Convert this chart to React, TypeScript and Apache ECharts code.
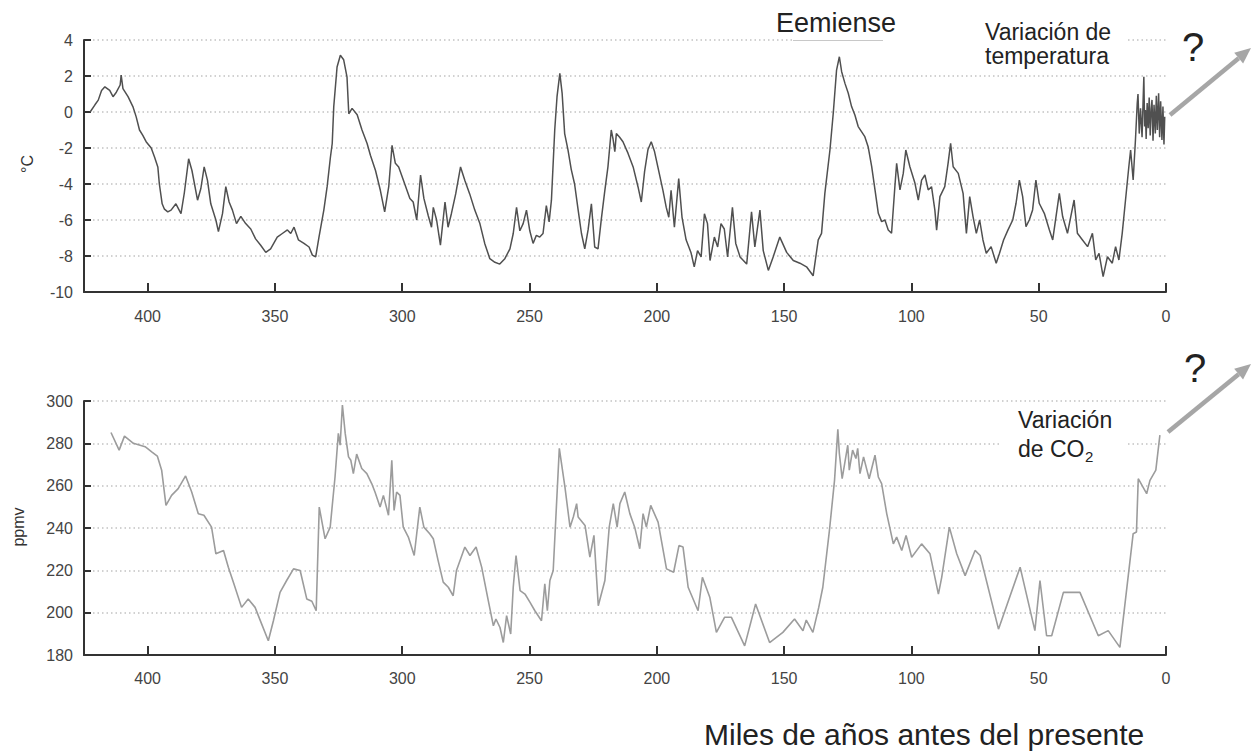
import React, { useEffect, useRef } from "react";
import * as echarts from "echarts";

// Temperature anomaly (°C) vs thousands of years before present
const tempAges = [
  422.6, 420.7, 419.4, 418.1, 416.8, 414.9, 413.6, 412.3, 410.8, 410.4, 409.7, 407.7, 405.8, 404.5, 403.2, 401.9,
  400.6, 398.6, 397.3, 396.0, 395.4, 394.3, 393.4, 392.1, 390.8, 388.9, 386.9, 385.6, 383.9, 382.6, 380.4, 379.1,
  377.8, 376.5, 375.2, 373.2, 372.2, 370.6, 369.3, 368.0, 366.7, 365.1, 363.4, 361.5, 359.5, 357.6, 355.6, 353.6,
  351.7, 349.1, 347.1, 345.1, 343.8, 342.5, 340.8, 338.6, 336.6, 335.3, 334.0, 332.7, 330.8, 329.5, 328.2, 327.5,
  326.9, 325.6, 324.3, 323.0, 321.7, 321.0, 319.7, 317.7, 315.8, 313.8, 312.5, 310.5, 308.6, 306.9, 305.3, 304.0,
  302.7, 301.4, 299.4, 297.0, 295.7, 294.3, 292.8, 291.5, 289.8, 288.5, 287.8, 286.5, 285.0, 283.2, 282.0, 280.7,
  279.0, 277.1, 275.4, 273.5, 271.5, 269.5, 267.6, 265.6, 263.6, 261.7, 259.7, 257.7, 256.4, 255.1, 253.8, 252.5,
  251.2, 249.9, 248.6, 247.3, 246.0, 244.7, 243.4, 242.3, 241.4, 240.1, 239.2, 238.1, 237.2, 236.2, 234.9, 233.6,
  232.3, 230.9, 229.6, 228.3, 227.0, 225.7, 224.4, 223.1, 221.8, 220.5, 219.2, 217.9, 217.2, 216.5, 215.9, 214.6,
  213.3, 211.3, 209.3, 207.4, 206.1, 204.8, 203.5, 202.2, 200.9, 199.6, 197.6, 196.3, 195.3, 194.4, 193.1, 191.4,
  190.1, 188.5, 186.6, 185.3, 184.0, 182.6, 181.3, 180.1, 179.1, 177.4, 176.1, 174.8, 173.5, 172.2, 170.3, 169.0,
  167.3, 164.7, 162.8, 161.5, 159.5, 158.2, 156.2, 154.3, 151.7, 149.0, 146.4, 143.8, 141.2, 138.6, 136.6, 135.3,
  134.0, 132.0, 130.7, 129.4, 128.3, 127.4, 126.1, 124.8, 123.5, 122.2, 120.9, 119.6, 118.3, 117.0, 115.6, 114.3,
  113.0, 111.7, 110.4, 109.1, 107.8, 106.5, 105.8, 104.5, 103.2, 102.2, 100.6, 98.6, 97.3, 96.0, 94.7, 93.4,
  92.1, 90.8, 90.1, 88.8, 86.9, 85.6, 84.6, 83.6, 81.6, 79.7, 78.4, 77.1, 75.8, 74.5, 73.2, 71.9,
  70.6, 68.7, 66.7, 65.4, 63.8, 62.1, 60.2, 58.9, 57.6, 56.3, 55.0, 53.7, 52.4, 51.1, 49.8, 47.8,
  45.8, 44.5, 43.2, 41.9, 40.6, 38.7, 37.4, 36.1, 34.8, 32.8, 30.8, 28.9, 27.6, 26.3, 24.7, 23.0,
  21.1, 19.8, 18.5, 17.2, 15.9, 14.6, 13.9, 12.9, 12.0, 11.3, 11.0, 10.5, 10.0, 9.4, 9.0, 8.7,
  8.4, 8.1, 7.8, 7.4, 7.0, 6.6, 6.2, 5.8, 5.5, 5.1, 4.7, 4.2, 3.8, 3.4, 2.9, 2.5,
  2.1, 1.6, 1.2, 0.8, 0.5,
];
const tempValues = [
  0.0, 0.4, 0.66, 1.2, 1.4, 1.2, 0.85, 1.1, 1.5, 2.05, 1.3, 0.85, 0.3, -0.27, -1.0, -1.3,
  -1.65, -2.0, -2.5, -3.05, -4.0, -5.1, -5.4, -5.55, -5.45, -5.1, -5.65, -4.5, -2.6, -3.25, -4.9, -4.25,
  -3.05, -3.8, -5.1, -6.0, -6.65, -5.65, -4.15, -5.0, -5.45, -6.2, -5.8, -6.2, -6.5, -7.05, -7.4, -7.8,
  -7.6, -6.95, -6.75, -6.55, -6.75, -6.4, -7.1, -7.3, -7.5, -7.95, -8.05, -6.95, -5.45, -4.15, -2.5, -1.75,
  0.3, 2.5, 3.15, 2.9, 1.95, -0.1, 0.2, -0.15, -1.0, -1.75, -2.4, -3.25, -4.35, -5.55, -4.15, -1.85,
  -2.85, -3.05, -3.85, -4.8, -5.0, -6.0, -3.5, -4.8, -5.75, -6.4, -5.3, -6.0, -7.4, -5.0, -6.4, -5.65,
  -4.55, -3.05, -3.8, -4.55, -5.45, -6.2, -7.3, -8.15, -8.35, -8.45, -8.15, -7.6, -6.75, -5.3, -6.6, -6.2,
  -5.45, -6.6, -7.3, -6.85, -6.95, -6.75, -5.2, -6.1, -4.9, -1.0, 0.85, 2.15, 1.05, -1.2, -2.1, -3.2,
  -4.0, -5.45, -6.75, -7.6, -6.55, -5.1, -7.5, -7.6, -5.95, -4.45, -3.05, -1.0, -1.5, -2.2, -1.2, -1.4,
  -1.65, -2.3, -3.05, -4.15, -5.0, -3.3, -2.1, -1.65, -2.2, -3.05, -4.35, -5.3, -5.85, -4.35, -6.4, -3.7,
  -5.85, -7.1, -7.8, -8.6, -7.7, -8.05, -5.65, -6.2, -8.25, -6.95, -7.5, -6.2, -6.5, -8.05, -5.3, -7.3,
  -8.05, -8.45, -5.55, -7.5, -5.45, -7.7, -8.8, -8.05, -6.95, -7.8, -8.25, -8.4, -8.6, -9.1, -7.1, -6.74,
  -4.52, -2.11, -0.07, 2.33, 3.07, 2.24, 1.59, 1.04, 0.3, -0.17, -0.81, -1.09, -1.37, -1.93, -3.04, -4.33,
  -5.63, -6.09, -6.0, -6.56, -6.74, -4.15, -2.85, -4.33, -3.41, -2.11, -3.04, -3.96, -4.89, -3.78, -3.5, -4.33,
  -4.15, -5.44, -6.56, -4.7, -4.15, -2.85, -1.74, -3.04, -3.41, -4.52, -6.74, -4.7, -5.81, -6.74, -6.0, -7.11,
  -7.85, -7.48, -8.4, -7.85, -7.11, -6.56, -6.0, -5.07, -3.78, -4.7, -6.37, -6.0, -5.44, -3.78, -5.07, -5.63,
  -6.56, -7.11, -5.81, -4.52, -5.81, -6.74, -5.81, -4.89, -6.74, -7.11, -7.48, -6.74, -8.22, -7.85, -9.15, -8.04,
  -8.4, -7.48, -8.22, -6.74, -4.89, -3.04, -2.11, -3.78, -1.56, 0.48, 1.0, -1.2, 0.2, -1.4, 0.6, 1.96,
  -0.8, 0.11, -1.5, 0.5, -0.9, 0.8, -1.3, 0.2, 0.67, -1.6, 0.4, -1.19, 0.9, -1.0, 1.04, -1.4,
  0.6, -1.56, 0.3, -1.8, -0.26,
];

// CO2 concentration (ppmv) vs thousands of years before present
const co2Ages = [
  414.4, 411.2, 409.1, 405.6, 401.0, 398.4, 396.2, 394.5, 392.8, 390.6, 388.0, 385.1, 382.7, 380.1, 377.9, 374.9,
  373.2, 370.2, 368.3, 366.1, 363.1, 360.5, 357.8, 355.2, 352.6, 350.6, 348.0, 345.4, 342.7, 340.1, 337.5, 335.5,
  333.8, 332.6, 330.3, 328.3, 326.4, 325.1, 324.4, 323.5, 322.4, 321.1, 320.2, 319.2, 317.9, 315.9, 313.9, 312.0,
  310.7, 308.7, 307.4, 305.4, 304.1, 303.2, 302.2, 300.9, 299.6, 297.6, 295.3, 293.1, 291.5, 289.2, 287.8, 285.9,
  283.9, 281.9, 280.0, 278.7, 275.4, 273.4, 271.0, 268.8, 266.2, 264.2, 263.2, 261.6, 260.3, 259.0, 257.4, 256.4,
  255.3, 253.7, 251.8, 249.8, 247.9, 245.3, 244.0, 243.0, 242.0, 240.7, 238.3, 236.1, 234.1, 232.8, 231.5, 230.9,
  228.2, 226.3, 224.7, 223.0, 220.4, 218.7, 217.1, 215.6, 214.5, 212.6, 210.6, 208.7, 206.7, 205.4, 204.1, 202.4,
  199.5, 196.2, 193.4, 191.3, 189.7, 187.7, 183.8, 182.1, 179.2, 176.6, 173.4, 170.7, 165.5, 161.2, 155.7, 150.5,
  145.9, 142.6, 141.3, 138.7, 136.4, 134.8, 132.2, 130.2, 128.9, 128.3, 127.2, 125.0, 124.4, 123.1, 121.8, 121.1,
  120.2, 118.8, 116.6, 114.3, 113.0, 111.7, 109.7, 107.1, 105.8, 103.8, 102.1, 99.9, 96.0, 92.7, 89.4, 88.1,
  85.1, 82.2, 78.9, 75.0, 73.0, 65.8, 57.3, 51.5, 49.5, 46.9, 44.9, 40.3, 33.8, 26.6, 22.7, 18.1,
  12.9, 11.6, 10.9, 7.6, 6.3, 4.0, 2.4,
];
const co2Values = [
  285.1, 276.8, 283.4, 280.0, 278.4, 276.0, 274.0, 267.3, 250.7, 255.4, 258.6, 264.6, 257.0, 246.7, 246.0, 240.4,
  227.8, 229.4, 221.5, 213.6, 202.5, 206.5, 202.5, 194.6, 186.7, 196.2, 209.6, 215.2, 220.7, 219.9, 206.5, 205.4,
  200.9, 249.9, 234.9, 240.4, 264.1, 284.7, 279.1, 298.1, 284.7, 273.6, 272.0, 265.7, 274.9, 268.1, 265.7, 261.0,
  257.0, 249.9, 255.4, 246.0, 272.0, 248.3, 257.0, 255.4, 240.4, 235.7, 227.0, 249.9, 240.4, 237.3, 234.9, 224.6,
  214.4, 212.0, 208.0, 219.9, 231.0, 227.0, 231.0, 221.5, 205.7, 193.8, 197.0, 193.0, 185.9, 198.6, 189.9, 212.0,
  227.0, 210.4, 208.8, 204.9, 200.9, 196.2, 213.6, 200.9, 215.2, 219.9, 277.6, 259.4, 240.4, 245.2, 251.5, 245.2,
  241.2, 226.2, 236.5, 203.3, 215.2, 240.4, 251.5, 240.4, 251.5, 257.0, 246.8, 240.4, 230.2, 246.8, 240.4, 250.7,
  242.8, 220.7, 219.1, 231.7, 231.0, 212.0, 200.9, 216.7, 207.3, 190.7, 197.8, 197.8, 184.3, 204.1, 185.9, 190.7,
  197.0, 191.5, 196.5, 190.7, 202.5, 212.0, 238.9, 262.5, 286.6, 275.2, 263.3, 279.1, 267.3, 276.8, 272.8, 277.6,
  265.7, 273.6, 263.3, 274.4, 264.1, 261.0, 246.8, 232.5, 235.7, 229.4, 236.5, 226.2, 232.5, 227.8, 208.8, 216.7,
  240.4, 227.8, 217.5, 229.4, 227.0, 192.2, 221.5, 191.5, 215.2, 189.1, 189.1, 209.6, 209.6, 189.1, 191.5, 183.6,
  237.3, 238.1, 263.3, 256.2, 262.5, 267.3, 283.9,
];

const xTicks = [0, 50, 100, 150, 200, 250, 300, 350, 400];

const FONT = "'Liberation Sans', Arial, Helvetica, sans-serif";

function zip(a: number[], b: number[]) {
  return a.map((x, i) => [x, b[i]]);
}

export default function App() {
  const ref = useRef<HTMLDivElement>(null);
  useEffect(() => {
    if (!ref.current) return;
    const chart = echarts.init(ref.current, undefined, { renderer: "svg" });

    const xAxisBase = (gridIndex: number) => ({
      type: "value" as const,
      gridIndex,
      position: "bottom",
      inverse: true,
      min: 0,
      max: 425,
      interval: 50,
      splitLine: { show: false },
      axisLine: { show: true, onZero: false, lineStyle: { color: "#333", width: 2 } },
      axisTick: { show: true, inside: true, length: 9, lineStyle: { color: "#333", width: 2 } },
      axisLabel: {
        fontSize: 16,
        color: "#444",
        fontFamily: FONT,
        margin: gridIndex === 0 ? 16 : 15,
        formatter: (v: number) => (xTicks.includes(v) ? String(v) : ""),
      },
    });

    const yAxisBase = (gridIndex: number, min: number, max: number, interval: number) => ({
      type: "value" as const,
      gridIndex,
      position: "left",
      min,
      max,
      interval,
      axisLine: { show: true, onZero: false, lineStyle: { color: "#333", width: 2 } },
      axisTick: { show: true, inside: true, length: 7, lineStyle: { color: "#333", width: 2 } },
      axisLabel: { fontSize: 16, color: "#444", fontFamily: FONT, margin: 11 },
      splitLine: {
        show: true,
        lineStyle: { color: "#c2c2c2", width: 1.5, type: [1.5, 3] as any },
      },
    });

    const arrow = (x1: number, y1: number, x2: number, y2: number) => {
      const dx = x2 - x1;
      const dy = y2 - y1;
      const len = Math.sqrt(dx * dx + dy * dy);
      const ux = dx / len;
      const uy = dy / len;
      const hl = 16;
      const hw = 7;
      const bx = x2 - ux * hl;
      const by = y2 - uy * hl;
      const nx = -uy;
      const ny = ux;
      return [
        {
          type: "line",
          z: 110,
          shape: { x1, y1, x2: bx, y2: by },
          style: { stroke: "#a6a6a6", lineWidth: 4.5 },
        },
        {
          type: "polygon",
          z: 110,
          shape: {
            points: [
              [x2, y2],
              [bx + nx * hw, by + ny * hw],
              [bx - nx * hw, by - ny * hw],
            ],
          },
          style: { fill: "#a6a6a6" },
        },
      ];
    };

    const option: any = {
      animation: false,
      backgroundColor: "#ffffff",
      grid: [
        { left: 84, right: 86, top: 40, height: 252, containLabel: false },
        { left: 84, right: 86, top: 401, height: 254, containLabel: false },
      ],
      xAxis: [xAxisBase(0), xAxisBase(1)],
      yAxis: [yAxisBase(0, -10, 4, 2), yAxisBase(1, 180, 300, 20)],
      series: [
        {
          type: "line",
          xAxisIndex: 0,
          yAxisIndex: 0,
          data: zip(tempAges, tempValues),
          showSymbol: false,
          lineStyle: { color: "#505050", width: 1.5 },
          z: 3,
        },
        {
          type: "line",
          xAxisIndex: 1,
          yAxisIndex: 1,
          data: zip(co2Ages, co2Values),
          showSymbol: false,
          lineStyle: { color: "#9c9c9c", width: 1.6 },
          z: 3,
        },
      ],
      graphic: [
        { type: "rect", z: 100, shape: { x: 792, y: 34, width: 336, height: 12 }, style: { fill: "#fff" } },
        { type: "line", z: 101, shape: { x1: 793, y1: 40.5, x2: 883, y2: 40.5 }, style: { stroke: "#c8c8c8", lineWidth: 1 } },
        { type: "rect", z: 100, shape: { x: 1000, y: 437, width: 127, height: 12 }, style: { fill: "#fff" } },
        {
          type: "text",
          z: 120,
          x: 776,
          y: 23,
          style: { text: "Eemiense", fontSize: 27, fontFamily: FONT, fill: "#222", align: "left", verticalAlign: "middle" },
        },
        {
          type: "text",
          z: 120,
          x: 985,
          y: 32,
          style: { text: "Variación de", fontSize: 23, fontFamily: FONT, fill: "#222", align: "left", verticalAlign: "middle" },
        },
        {
          type: "text",
          z: 120,
          x: 985,
          y: 56,
          style: { text: "temperatura", fontSize: 23, fontFamily: FONT, fill: "#222", align: "left", verticalAlign: "middle" },
        },
        {
          type: "text",
          z: 120,
          x: 1193,
          y: 47,
          style: { text: "?", fontSize: 40, fontFamily: FONT, fill: "#222", align: "center", verticalAlign: "middle" },
        },
        ...arrow(1170, 115, 1251, 48),
        {
          type: "text",
          z: 120,
          x: 1195,
          y: 368,
          style: { text: "?", fontSize: 40, fontFamily: FONT, fill: "#222", align: "center", verticalAlign: "middle" },
        },
        ...arrow(1168, 432, 1251, 364),
        {
          type: "text",
          z: 120,
          x: 1018,
          y: 420,
          style: { text: "Variación", fontSize: 23, fontFamily: FONT, fill: "#222", align: "left", verticalAlign: "middle" },
        },
        {
          type: "text",
          z: 120,
          x: 1018,
          y: 449,
          style: { text: "de CO", fontSize: 23, fontFamily: FONT, fill: "#222", align: "left", verticalAlign: "middle" },
        },
        {
          type: "text",
          z: 120,
          x: 1085,
          y: 456,
          style: { text: "2", fontSize: 15, fontFamily: FONT, fill: "#222", align: "left", verticalAlign: "middle" },
        },
        {
          type: "text",
          z: 120,
          x: 27,
          y: 164,
          rotation: Math.PI / 2,
          style: { text: "°C", fontSize: 16, fontFamily: FONT, fill: "#333", align: "center", verticalAlign: "middle" },
        },
        {
          type: "text",
          z: 120,
          x: 18,
          y: 527,
          rotation: Math.PI / 2,
          style: { text: "ppmv", fontSize: 16, fontFamily: FONT, fill: "#333", align: "center", verticalAlign: "middle" },
        },
        {
          type: "text",
          z: 120,
          x: 704,
          y: 734,
          style: {
            text: "Miles de años antes del presente",
            fontSize: 30,
            fontFamily: FONT,
            fill: "#222",
            align: "left",
            verticalAlign: "middle",
          },
        },
      ],
    };

    chart.setOption(option);
    return () => chart.dispose();
  }, []);

  return (
    <div
      ref={ref}
      style={{ position: "fixed", left: 0, top: 0, width: 1252, height: 752, background: "#fff" }}
    />
  );
}
